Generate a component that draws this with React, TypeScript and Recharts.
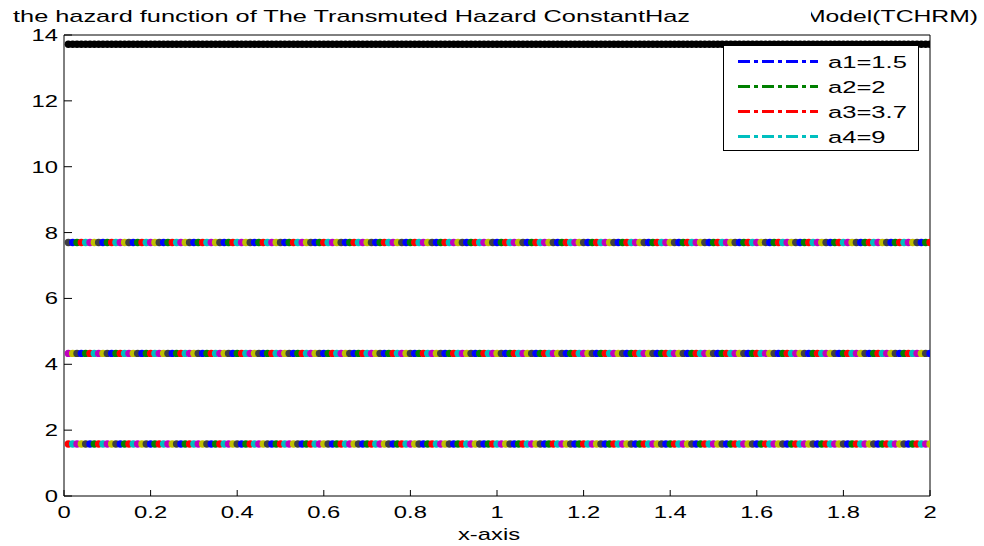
import React from 'react';
import { ScatterChart, Scatter, XAxis, YAxis, Cell, Legend } from 'recharts';

// sample grid of the curves (0.01 : 0.01 : 2)
const xSamples: number[] = Array.from({ length: 200 }, (_, i) => (i + 1) / 100);
// constant hazard levels (a1..a4 overlap on each level)
const hazardLevels = [7.7, 4.33, 1.58];
const topLevel = 13.72;

const xTicks = [0, 0.2, 0.4, 0.6, 0.8, 1, 1.2, 1.4, 1.6, 1.8, 2];
const yTicks = [0, 2, 4, 6, 8, 10, 12, 14];
const legendLabels = ['a1=1.5', 'a2=2', 'a3=3.7', 'a4=9'];

const TITLE_LEFT = 'the hazard function of The Transmuted Hazard ConstantHaz';
const TITLE_RIGHT = 'Model(TCHRM)';

// old matlab ColorOrder
const MATLAB_COLORS = ['#0000ff', '#008000', '#ff0000', '#00bfbf', '#bf00bf', '#bfbf00', '#404040'];
const COLOR_START = [6, 4, 2];
const LEGEND_COLORS = ['#0000ff', '#008000', '#ff0000', '#00bfbf'];

const FONT = '"Liberation Sans", Arial, sans-serif';
const STRETCH = 1.4;
const FONT_SIZE = 17;

const YTick = ({ x, y, payload }: any) => (
    <g transform={`translate(${x},${y}) scale(${STRETCH},1)`}>
        <text x={0} y={0} dy={6} textAnchor="end" fontSize={FONT_SIZE} fontFamily={FONT} fill="#000">
            {payload.value}
        </text>
    </g>
);

const XTick = ({ x, y, payload }: any) => (
    <g transform={`translate(${x},${y}) scale(${STRETCH},1)`}>
        <text x={0} y={0} dy={12} textAnchor="middle" fontSize={FONT_SIZE} fontFamily={FONT} fill="#000">
            {payload.value}
        </text>
    </g>
);

const XAxisTitle = ({ viewBox }: any) => (
    <g transform={`translate(${viewBox.x + viewBox.width / 2 - 8},540) scale(${STRETCH},1)`}>
        <text x={0} y={0} textAnchor="middle" fontSize={FONT_SIZE} fontFamily={FONT} fill="#000">
            x-axis
        </text>
    </g>
);

const renderDot = (props: any) => (
    <circle cx={props.cx} cy={props.cy} r={3.7} fill={props.fill} />
);

const renderLegend = () => (
    <svg width={196} height={106} style={{ display: 'block' }}>
        <rect x={0.5} y={0.5} width={195} height={105} fill="#fff" stroke="#000" />
        {legendLabels.map((label, i) => {
            const cy = 16.5 + i * 25;
            return (
                <g key={label}>
                    <line x1={15} x2={95} y1={cy} y2={cy} stroke={LEGEND_COLORS[i]} strokeWidth={3} strokeDasharray="12 4 4 4" />
                    <g transform={`translate(105,${cy}) scale(1.55,1)`}>
                        <text x={0} y={0} dy={6} fontSize={16.5} fontFamily={FONT} fill="#000">{label}</text>
                    </g>
                </g>
            );
        })}
    </svg>
);

const axisStroke = { stroke: '#000', strokeWidth: 1 };

export default function App() {
    return (
        <div style={{ position: 'absolute', left: 0, top: 0, width: 984, height: 546, background: '#fff' }}>
            <svg width={984} height={30} style={{ position: 'absolute', left: 0, top: 0 }}>
                <text x={13} y={21.5} fontSize={17} fontFamily={FONT} fill="#000" textLength={677} lengthAdjust="spacingAndGlyphs">
                    {TITLE_LEFT}
                </text>
                <text x={805} y={21.5} fontSize={17} fontFamily={FONT} fill="#000" textLength={173} lengthAdjust="spacingAndGlyphs">
                    {TITLE_RIGHT}
                </text>
                <rect x={800} y={0} width={11} height={30} fill="#fff" />
            </svg>
            <ScatterChart width={984} height={546} margin={{ top: 34, right: 53, bottom: 0, left: 24 }}>
                <XAxis
                    type="number"
                    dataKey="x"
                    domain={[0, 2]}
                    ticks={xTicks}
                    allowDataOverflow
                    height={50}
                    tickSize={-6}
                    tickMargin={16}
                    axisLine={axisStroke}
                    tickLine={axisStroke}
                    tick={<XTick />}
                    label={XAxisTitle}
                />
                <XAxis
                    xAxisId="top"
                    orientation="top"
                    type="number"
                    domain={[0, 2]}
                    ticks={xTicks}
                    allowDataOverflow
                    height={1}
                    tickSize={-5}
                    axisLine={axisStroke}
                    tickLine={axisStroke}
                    tick={false}
                />
                <YAxis
                    type="number"
                    dataKey="y"
                    domain={[0, 14]}
                    ticks={yTicks}
                    allowDataOverflow
                    width={40}
                    tickSize={-8}
                    tickMargin={14}
                    axisLine={axisStroke}
                    tickLine={axisStroke}
                    tick={<YTick />}
                />
                <YAxis
                    yAxisId="right"
                    orientation="right"
                    type="number"
                    domain={[0, 14]}
                    ticks={yTicks}
                    allowDataOverflow
                    width={1}
                    tickSize={-8}
                    axisLine={axisStroke}
                    tickLine={axisStroke}
                    tick={false}
                />
                <Legend
                    layout="vertical"
                    align="center"
                    verticalAlign="middle"
                    content={renderLegend}
                    wrapperStyle={{ left: 723, top: 45, width: 196, height: 106 }}
                />
                <Scatter
                    data={xSamples.map(x => ({ x, y: topLevel }))}
                    fill="#000"
                    shape={renderDot}
                    isAnimationActive={false}
                />
                {hazardLevels.map((level, li) => (
                    <Scatter
                        key={level}
                        data={xSamples.map(x => ({ x, y: level }))}
                        shape={renderDot}
                        isAnimationActive={false}
                    >
                        {xSamples.map((_, i) => (
                            <Cell key={i} fill={MATLAB_COLORS[(i + COLOR_START[li]) % MATLAB_COLORS.length]} />
                        ))}
                    </Scatter>
                ))}
            </ScatterChart>
        </div>
    );
}
